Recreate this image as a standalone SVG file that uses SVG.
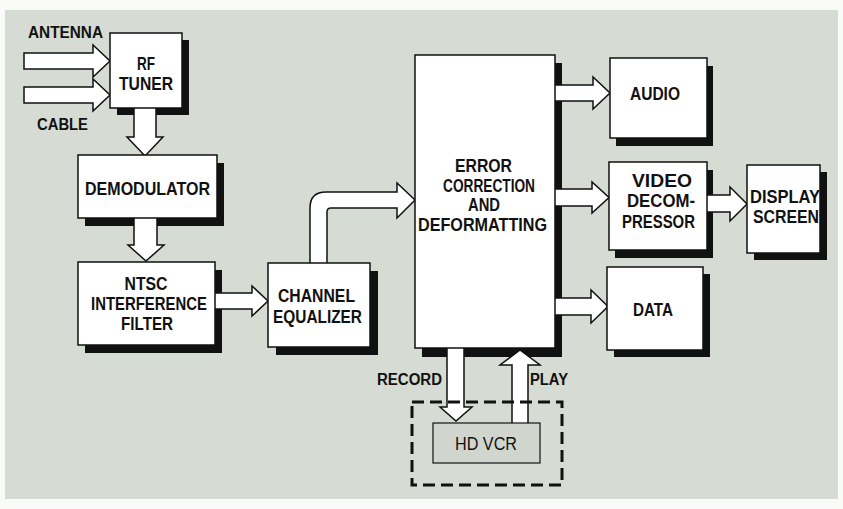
<svg xmlns="http://www.w3.org/2000/svg" width="843" height="509" viewBox="0 0 843 509">
<style>
.bg{fill:#d6dbd3}
.sh{fill:#111}
.box{fill:#fff;stroke:#111;stroke-width:1.5}
.arr{fill:#fff;stroke:#111;stroke-width:1.5;stroke-linejoin:miter}
text{font-family:"Liberation Sans Narrow","Liberation Sans",Arial,sans-serif;font-weight:bold;fill:#111;text-anchor:middle}
.t{font-size:18px}
.l{font-size:16px;text-anchor:start}
</style>
<rect width="843" height="509" fill="#fafbf9"/>
<rect class="bg" x="5" y="10" width="833" height="489"/>
<g id="shadows">
<rect class="sh" x="117" y="40" width="72" height="75"/>
<rect class="sh" x="85" y="163" width="139" height="63"/>
<rect class="sh" x="85" y="270" width="137" height="83"/>
<rect class="sh" x="276" y="271" width="102" height="84"/>
<rect class="sh" x="422" y="63" width="140" height="294"/>
<rect class="sh" x="616" y="66" width="97" height="80"/>
<rect class="sh" x="615" y="170" width="98" height="88"/>
<rect class="sh" x="754" y="172" width="73" height="88"/>
<rect class="sh" x="614" y="274" width="96" height="83"/>
</g>
<g id="connectors">
<path class="arr" d="M24,53 H93 V45 L110,61 L93,77 V69 H24 Z"/>
<path class="arr" d="M24,87 H93 V79 L110,95 L93,111 V103 H24 Z"/>
<path class="arr" d="M134,100 V137 H127 L145,156 L163,137 H156 V100 Z"/>
<path class="arr" d="M134,210 V245 H128 L146,261 L164,245 H157 V210 Z"/>
<path class="arr" d="M200,293 H252 V286 L268,301 L252,316 V309 H200 Z"/>
<path class="arr" d="M310,300 V208 Q310,192 326,192 H397 V183 L415,200 L397,218 V208 H331 Q327,208 327,212 V300 Z"/>
<path class="arr" d="M540,85 H593 V77 L610,93 L593,109 V101 H540 Z"/>
<path class="arr" d="M540,189 H592 V182 L609,197.5 L592,213 V206 H540 Z"/>
<path class="arr" d="M700,195 H730 V187 L747,204 L730,221 V212 H700 Z"/>
<path class="arr" d="M540,298 H591 V290 L608,306.5 L591,323 V315 H540 Z"/>
<path class="arr" d="M447,340 V407 H440 L456,421 L472,407 H464 V340 Z"/>
<path class="arr" d="M512,423 V365 H500 L520,350 L540,365 H528 V423"/>
<text class="l" x="28" y="38" textLength="75" lengthAdjust="spacingAndGlyphs">ANTENNA</text>
<text class="l" x="37" y="130" textLength="51" lengthAdjust="spacingAndGlyphs">CABLE</text>
<text class="l" x="377" y="385" textLength="65" lengthAdjust="spacingAndGlyphs">RECORD</text>
<text class="l" x="530" y="385" textLength="38" lengthAdjust="spacingAndGlyphs">PLAY</text>
</g>
<g id="rf-tuner">
<rect class="box" x="110" y="33" width="72" height="75"/>
<text class="t" x="146" y="70" textLength="18" lengthAdjust="spacingAndGlyphs">RF</text>
<text class="t" x="146" y="90" textLength="54" lengthAdjust="spacingAndGlyphs">TUNER</text>
</g>
<g id="demodulator">
<rect class="box" x="78" y="155" width="139" height="63"/>
<text class="t" x="147.5" y="195" textLength="125" lengthAdjust="spacingAndGlyphs">DEMODULATOR</text>
</g>
<g id="ntsc-filter">
<rect class="box" x="78" y="262" width="137" height="83"/>
<text class="t" x="146" y="290" textLength="43" lengthAdjust="spacingAndGlyphs">NTSC</text>
<text class="t" x="149" y="310" textLength="116" lengthAdjust="spacingAndGlyphs">INTERFERENCE</text>
<text class="t" x="147" y="330" textLength="52" lengthAdjust="spacingAndGlyphs">FILTER</text>
</g>
<g id="channel-equalizer">
<rect class="box" x="268" y="263" width="102" height="84"/>
<text class="t" x="316.5" y="302" textLength="77" lengthAdjust="spacingAndGlyphs">CHANNEL</text>
<text class="t" x="317.5" y="323" textLength="89" lengthAdjust="spacingAndGlyphs">EQUALIZER</text>
</g>
<g id="error-correction">
<rect class="box" x="415" y="55" width="140" height="293"/>
<text class="t" x="483.5" y="172" textLength="57" lengthAdjust="spacingAndGlyphs">ERROR</text>
<text class="t" x="489" y="192" textLength="92" lengthAdjust="spacingAndGlyphs">CORRECTION</text>
<text class="t" x="484" y="211" textLength="32" lengthAdjust="spacingAndGlyphs">AND</text>
<text class="t" x="482.5" y="231" textLength="129" lengthAdjust="spacingAndGlyphs">DEFORMATTING</text>
</g>
<g id="audio">
<rect class="box" x="610" y="58" width="97" height="80"/>
<text class="t" x="655" y="100" textLength="50" lengthAdjust="spacingAndGlyphs">AUDIO</text>
</g>
<g id="video-decompressor">
<rect class="box" x="609" y="162" width="98" height="88"/>
<text class="t" x="662" y="187" textLength="60" lengthAdjust="spacingAndGlyphs">VIDEO</text>
<text class="t" x="661" y="207" textLength="68" lengthAdjust="spacingAndGlyphs">DECOM-</text>
<text class="t" x="658.5" y="228" textLength="73" lengthAdjust="spacingAndGlyphs">PRESSOR</text>
</g>
<g id="display-screen">
<rect class="box" x="747" y="165" width="73" height="88"/>
<text class="t" x="785" y="203" textLength="70" lengthAdjust="spacingAndGlyphs">DISPLAY</text>
<text class="t" x="786" y="223" textLength="66" lengthAdjust="spacingAndGlyphs">SCREEN</text>
</g>
<g id="data">
<rect class="box" x="607" y="267" width="96" height="83"/>
<text class="t" x="653" y="316" textLength="40" lengthAdjust="spacingAndGlyphs">DATA</text>
</g>
<g id="hd-vcr">
<rect x="412" y="402" width="150" height="83" fill="none" stroke="#111" stroke-width="3" stroke-dasharray="12 6"/>
<rect x="433" y="423" width="107" height="40" fill="#d0d6ce" stroke="#111" stroke-width="1.2"/>
<text x="486" y="450" font-size="18" textLength="62" lengthAdjust="spacingAndGlyphs" style="font-weight:normal">HD VCR</text>
</g>
</svg>
